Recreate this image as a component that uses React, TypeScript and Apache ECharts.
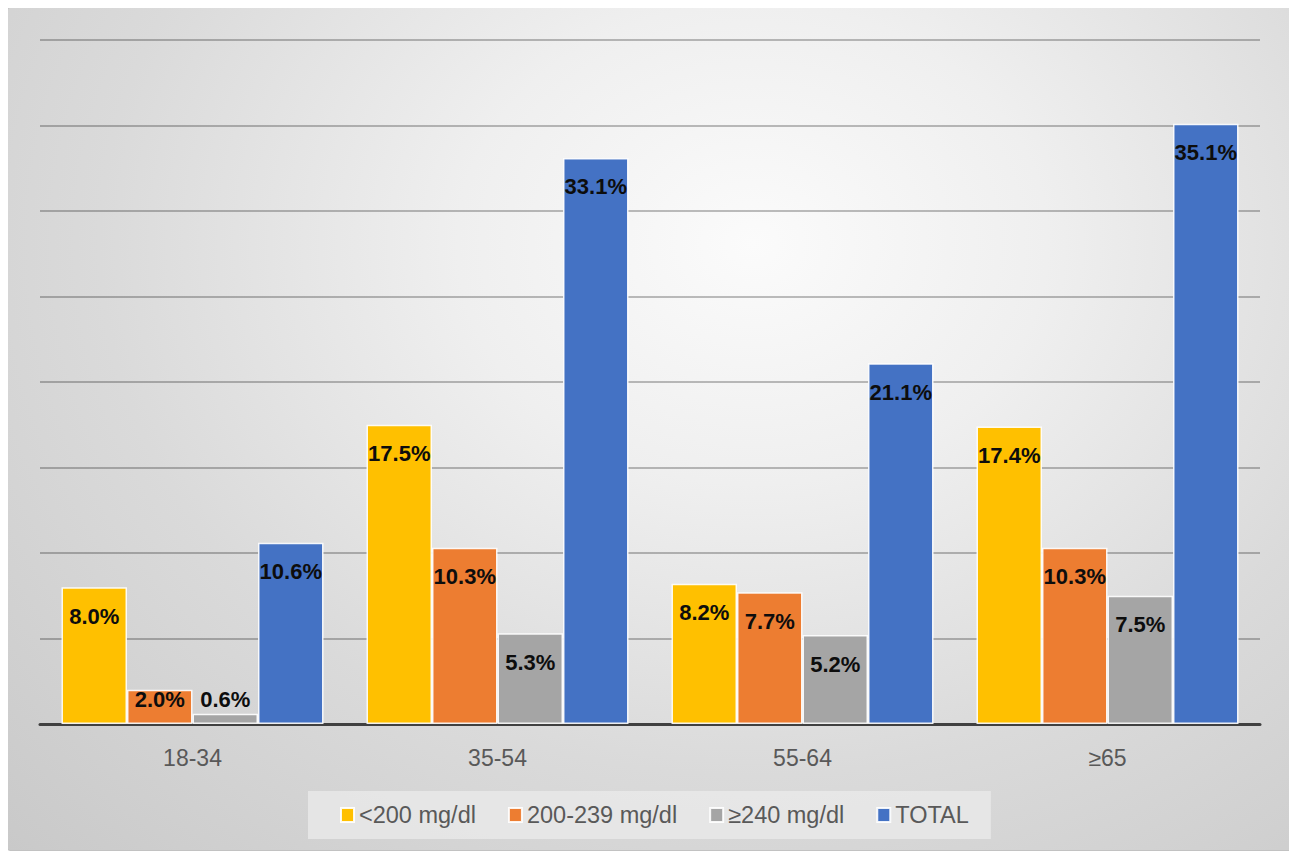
import React, { useEffect, useRef } from "react";
import * as echarts from "echarts";

const categories = ["18-34", "35-54", "55-64", "≥65"];
const seriesNames = ["<200 mg/dl", "200-239 mg/dl", "≥240 mg/dl", "TOTAL"];
const below200 = [8.0, 17.5, 8.2, 17.4];
const from200to239 = [2.0, 10.3, 7.7, 10.3];
const above240 = [0.6, 5.3, 5.2, 7.5];
const total = [10.6, 33.1, 21.1, 35.1];
const colors = ["#FFC000", "#ED7D31", "#A5A5A5", "#4472C4"];

const FONT = "'Liberation Sans', Arial, sans-serif";

function makeData(values: number[]) {
  return values.map((v) =>
    v < 4
      ? { value: v, label: { position: "insideBottom", distance: 14 } }
      : { value: v }
  );
}

export default function App() {
  const ref = useRef<HTMLDivElement>(null);
  useEffect(() => {
    if (!ref.current) return;
    const chart = echarts.init(ref.current, undefined, { renderer: "svg" });
    const all = [below200, from200to239, above240, total];
    chart.setOption({
      animation: false,
      backgroundColor: "transparent",
      grid: { left: 32, right: 32, top: 32, bottom: 126, containLabel: false },
      legend: {
        bottom: 11,
        left: 300,
        data: seriesNames,
        icon: "rect",
        itemWidth: 13,
        itemHeight: 14,
        itemGap: 32,
        padding: [12, 22, 12, 32],
        backgroundColor: "rgba(235,235,235,0.75)",
        textStyle: { fontFamily: FONT, fontSize: 23.5, color: "#595959", padding: [0, 0, 0, 0] },
      },
      xAxis: {
        type: "category",
        data: categories,
        axisLine: { show: true, lineStyle: { color: "#404040", width: 3 } },
        axisTick: { show: false },
        axisLabel: { fontFamily: FONT, fontSize: 23, color: "#595959", margin: 22 },
      },
      yAxis: {
        type: "value",
        min: 0,
        max: 40,
        interval: 5,
        axisLine: { show: false },
        axisTick: { show: false },
        axisLabel: { show: false },
        splitLine: { show: true, lineStyle: { color: "rgba(0,0,0,0.25)", width: 2 } },
      },
      series: all.map((vals, i) => ({
        type: "bar",
        name: seriesNames[i],
        data: makeData(vals),
        barWidth: 65.5,
        barGap: "0%",
        itemStyle: { color: colors[i], borderColor: "rgba(255,255,255,0.9)", borderWidth: 1.5 },
        label: {
          show: true,
          position: "insideTop",
          distance: 18,
          fontFamily: FONT,
          fontSize: 22,
          fontWeight: "bold",
          color: "#0d0d0d",
          formatter: (p: any) => Number(p.value).toFixed(1) + "%",
        },
      })),
    });
    return () => chart.dispose();
  }, []);
  return (
    <div
      style={{
        width: 1286,
        height: 844,
        boxSizing: "border-box",
        border: "1px solid #c2c2c2",
        borderRadius: 3,
        background:
          "radial-gradient(ellipse at 58% 28%, #fbfbfb 0%, #efefef 28%, #dadada 62%, #c9c9c9 100%)",
        marginLeft: -1,
        marginTop: -1,
      }}
    >
      <div ref={ref} style={{ width: 1284, height: 842 }} />
    </div>
  );
}
